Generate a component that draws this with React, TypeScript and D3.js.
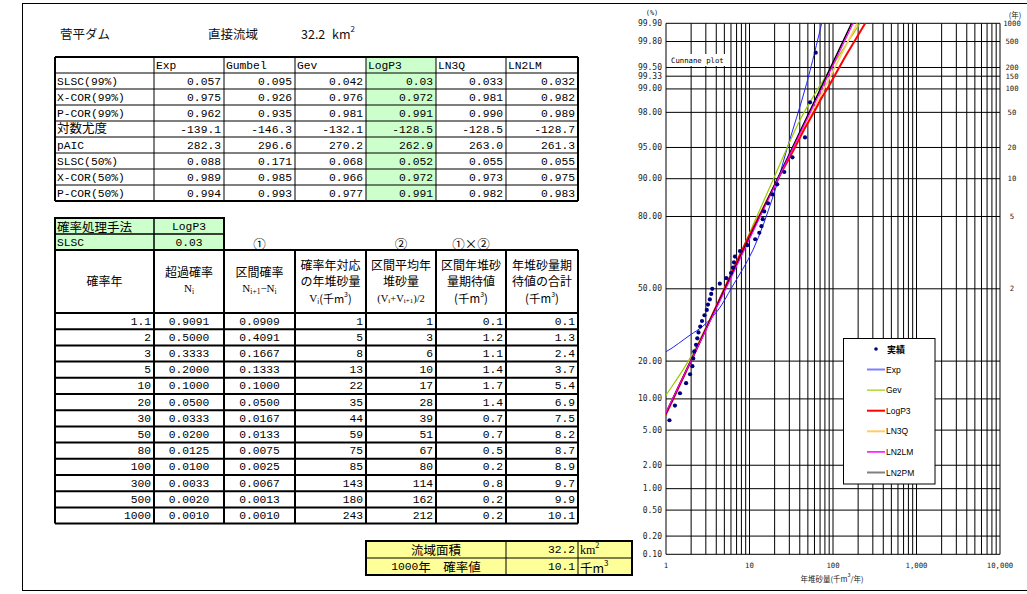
import React from 'react';
import * as d3 from 'd3';

// ---------- Table 1 data ----------
const distNames = ['Exp', 'Gumbel', 'Gev', 'LogP3', 'LN3Q', 'LN2LM'];
const statLabels = ['SLSC(99%)', 'X-COR(99%)', 'P-COR(99%)', '対数尤度', 'pAIC', 'SLSC(50%)', 'X-COR(50%)', 'P-COR(50%)'];
const slsc99 = [0.057, 0.095, 0.042, 0.03, 0.033, 0.032];
const xcor99 = [0.975, 0.926, 0.976, 0.972, 0.981, 0.982];
const pcor99 = [0.962, 0.935, 0.981, 0.991, 0.990, 0.989];
const logLik = [-139.1, -146.3, -132.1, -128.5, -128.5, -128.7];
const pAIC = [282.3, 296.6, 270.2, 262.9, 263.0, 261.3];
const slsc50 = [0.088, 0.171, 0.068, 0.052, 0.055, 0.055];
const xcor50 = [0.989, 0.985, 0.966, 0.972, 0.973, 0.975];
const pcor50 = [0.994, 0.993, 0.977, 0.991, 0.982, 0.983];
const statDecimals = [3, 3, 3, 1, 1, 3, 3, 3];
const selectedMethod = 'LogP3';
const selectedSlsc = 0.03;

// ---------- Table 2 data ----------
const returnPeriod = [1.1, 2, 3, 5, 10, 20, 30, 50, 80, 100, 300, 500, 1000];
const exceedProb = [0.9091, 0.5, 0.3333, 0.2, 0.1, 0.05, 0.0333, 0.02, 0.0125, 0.01, 0.0033, 0.002, 0.001];
const intervalProb = [0.0909, 0.4091, 0.1667, 0.1333, 0.1, 0.05, 0.0167, 0.0133, 0.0075, 0.0025, 0.0067, 0.0013, 0.001];
const quantileV = [1, 5, 8, 13, 22, 35, 44, 59, 75, 85, 143, 180, 243];
const intervalMean = [1, 3, 6, 10, 17, 28, 39, 51, 67, 80, 114, 162, 212];
const intervalExpect = [0.1, 1.2, 1.1, 1.4, 1.7, 1.4, 0.7, 0.7, 0.5, 0.2, 0.8, 0.2, 0.2];
const cumulativeExpect = [0.1, 1.3, 2.4, 3.7, 5.4, 6.9, 7.5, 8.2, 8.7, 8.9, 9.7, 9.9, 10.1];
const basinArea = 32.2;
const value1000 = 10.1;

// ---------- Chart data ----------
const probTicks = [0.1, 0.2, 0.5, 1, 2, 5, 10, 20, 50, 80, 90, 95, 98, 99, 99.333, 99.5, 99.8, 99.9];
const returnTicks = [2, 5, 10, 20, 50, 100, 150, 200, 500, 1000];
const xTickLabels = [1, 10, 100, 1000, 10000];

const obsValue = [1.10, 1.28, 1.47, 1.74, 1.94, 2.07, 2.12, 2.18, 2.29, 2.37, 2.45, 2.57, 2.70, 2.89, 3.08, 3.18, 3.35, 3.48, 3.58, 4.41,
  5.27, 6.0, 6.34, 6.52, 6.70, 7.69, 9.41, 11.7, 13.1, 13.9, 14.4, 15.0, 16.7, 18.8, 21.5, 26.1, 32.7, 46.2, 53.1, 62.1];
const obsPct = [6.3, 8.7, 11.2, 13.6, 16.0, 18.4, 20.9, 23.3, 25.7, 28.2, 30.6, 33.0, 35.4, 37.9, 40.3, 42.7, 45.1, 47.6, 50.0, 52.4,
  54.9, 57.3, 59.7, 62.1, 64.6, 67.0, 69.4, 71.8, 74.3, 76.7, 79.1, 81.6, 84.0, 86.4, 88.8, 91.3, 93.7, 96.1, 98.5, 99.7];

const expPct = [20.5, 23.2, 29.5, 33.2, 40.2, 50.8, 67.4, 85.8, 94.7, 99.16, 99.9];
const expVal = [0.6, 1.0, 1.94, 2.77, 4.2, 6.17, 11.0, 19.1, 27.9, 48.4, 73.2];
const gevPct = [9, 10.8, 20, 50, 90, 97.5, 99, 99.9];
const gevVal = [0.85, 1.0, 1.85, 5.0, 19.4, 40, 66, 210];
const logp3Pct = [5, 9.09, 50, 66.67, 80, 90, 95, 96.67, 98, 98.75, 99, 99.67, 99.8, 99.9];
const logp3Val = [0.8, 1.15, 5, 8, 13, 22, 35, 44, 59, 75, 85, 143, 180, 243];
const ln3qPct = [5, 7.5, 50, 90, 99, 99.9];
const ln3qVal = [0.8, 1.0, 5.05, 22, 78, 195];
const ln2lmPct = [5, 7.5, 50, 90, 99, 99.9];
const ln2lmVal = [0.8, 1.0, 5.2, 22, 73, 174];
const ln2pmPct = [5, 7.4, 50, 90, 99, 99.9];
const ln2pmVal = [0.8, 1.0, 5.1, 21.7, 70.7, 167];

const seriesStyle = [
  { name: 'Exp', pct: expPct, val: expVal, color: '#2222ff', legend: '#7f7fff', width: 1, lw: 2 },
  { name: 'Gev', pct: gevPct, val: gevVal, color: '#99cc00', legend: '#99cc00', width: 1.2, lw: 1.2 },
  { name: 'LN3Q', pct: ln3qPct, val: ln3qVal, color: '#ffcc66', legend: '#ffcc66', width: 1.5, lw: 2 },
  { name: 'LogP3', pct: logp3Pct, val: logp3Val, color: '#ff0000', legend: '#ff0000', width: 2, lw: 2 },
  { name: 'LN2PM', pct: ln2pmPct, val: ln2pmVal, color: '#000000', legend: '#808080', width: 1.5, lw: 2 },
  { name: 'LN2LM', pct: ln2lmPct, val: ln2lmVal, color: '#ff00ff', legend: '#ff00ff', width: 1.2, lw: 1.5 },
];
const legendOrder = ['Exp', 'Gev', 'LogP3', 'LN3Q', 'LN2LM', 'LN2PM'];

// ---------- helpers ----------
function normInv(p: number): number {
  const a = [-3.969683028665376e+01, 2.209460984245205e+02, -2.759285104469687e+02, 1.383577518672690e+02, -3.066479806614716e+01, 2.506628277459239e+00];
  const b = [-5.447609879822406e+01, 1.615858368580409e+02, -1.556989798598866e+02, 6.680131188771972e+01, -1.328068155288572e+01];
  const c = [-7.784894002430293e-03, -3.223964580411365e-01, -2.400758277161838e+00, -2.549732539343734e+00, 4.374664141464968e+00, 2.938163982698783e+00];
  const d = [7.784695709041462e-03, 3.224671290700398e-01, 2.445134137142996e+00, 3.754408661907416e+00];
  const pl = 0.02425;
  if (p < pl) {
    const q = Math.sqrt(-2 * Math.log(p));
    return (((((c[0] * q + c[1]) * q + c[2]) * q + c[3]) * q + c[4]) * q + c[5]) / ((((d[0] * q + d[1]) * q + d[2]) * q + d[3]) * q + 1);
  }
  if (p <= 1 - pl) {
    const q = p - 0.5, r = q * q;
    return (((((a[0] * r + a[1]) * r + a[2]) * r + a[3]) * r + a[4]) * r + a[5]) * q / (((((b[0] * r + b[1]) * r + b[2]) * r + b[3]) * r + b[4]) * r + 1);
  }
  const q = Math.sqrt(-2 * Math.log(1 - p));
  return -(((((c[0] * q + c[1]) * q + c[2]) * q + c[3]) * q + c[4]) * q + c[5]) / ((((d[0] * q + d[1]) * q + d[2]) * q + d[3]) * q + 1);
}

const MONO = "'Liberation Mono', 'Noto Sans CJK JP', monospace";
const CJK = "'Noto Sans CJK JP', sans-serif";
const SERIF = "'Liberation Serif', 'Noto Sans CJK JP', serif";
const CHARTMONO = "'DejaVu Sans Mono', 'Noto Sans CJK JP', monospace";

const PL = 666, PR = 1000, PT = 23.3, PB = 554.3;
const cols = [55, 154, 224, 295, 366, 436, 506, 578];

export default function App() {
  const x = d3.scaleLog().domain([1, 10000]).range([PL, PR]);
  const zs = d3.scaleLinear().domain([normInv(0.001), normInv(0.999)]).range([PB, PT]);
  const yP = (pct: number) => zs(normInv(pct / 100));

  const xGrid: number[] = [];
  for (let e = 0; e < 4; e++) for (let m = 1; m < 10; m++) xGrid.push(m * Math.pow(10, e));
  xGrid.push(10000);

  const line = d3.line<[number, number]>().x(d => x(d[1])).y(d => yP(d[0])).curve(d3.curveCatmullRom.alpha(0.5));

  // table 1
  const t1Top = 57, t1Rh = 16;
  const t1Rows = [slsc99, xcor99, pcor99, logLik, pAIC, slsc50, xcor50, pcor50];
  const selCol = distNames.indexOf(selectedMethod);
  const fmt1 = (r: number, c: number, v: number) => (r === 0 && c === selCol ? v.toFixed(2) : v.toFixed(statDecimals[r]));
  const t1Bottom = t1Top + t1Rh * (t1Rows.length + 1);

  // table 2
  const t2HeadTop = 250, t2HeadBot = 313, t2Rh = 16.2;
  const t2Bottom = t2HeadBot + t2Rh * returnPeriod.length;
  const cc = (i: number) => (cols[i] + cols[i + 1]) / 2;

  const fmtComma = d3.format(',');

  return (
    <div style={{ position: 'absolute', left: 0, top: 0 }}>
      <svg width={1027} height={594} xmlns="http://www.w3.org/2000/svg" style={{ display: 'block', background: '#fff' }}>
        <rect x={0} y={0} width={1027} height={594} fill="#fff" />
        <rect x={22.5} y={3.5} width={1030} height={587} fill="none" stroke="#000" strokeWidth={1} />

        {/* Title */}
        <g fontFamily={CJK} fontSize={12.5} fill="#111">
          <text x={60} y={33} dominantBaseline="central">菅平ダム</text>
          <text x={208} y={33} dominantBaseline="central">直接流域</text>
          <text x={301} y={33} dominantBaseline="central">{basinArea.toFixed(1)}</text>
          <text x={332} y={33.5} dominantBaseline="central">km<tspan fontSize={8} dy={-6}>2</tspan></text>
        </g>

        {/* Table 1 */}
        <rect x={cols[4]} y={t1Top} width={cols[5] - cols[4]} height={t1Bottom - t1Top} fill="#ccffcc" />
        {d3.range(t1Rows.length + 2).map(i => (
          <line key={'h1' + i} x1={cols[0]} x2={cols[7]} y1={t1Top + i * t1Rh} y2={t1Top + i * t1Rh}
            stroke="#000" strokeWidth={i === 0 || i === t1Rows.length + 1 ? 2 : 1} />
        ))}
        {cols.map((cx, i) => (
          <line key={'v1' + i} x1={cx} x2={cx} y1={t1Top} y2={t1Bottom} stroke="#000" strokeWidth={i === 0 || i === 7 ? 2 : 1} />
        ))}
        <g fontFamily={MONO} fontSize={11.3} fill="#000">
          {distNames.map((n, i) => (
            <text key={'dn' + i} x={cols[i + 1] + 2} y={t1Top + t1Rh / 2 + 0.5} dominantBaseline="central">{n}</text>
          ))}
          {statLabels.map((s, r) => (
            <text key={'sl' + r} x={cols[0] + 2} y={t1Top + (r + 1.5) * t1Rh + 0.5} dominantBaseline="central"
              fontSize={/[^\x00-\x7f]/.test(s) ? 12.5 : 11.3}>{s}</text>
          ))}
          {t1Rows.map((row, r) => row.map((v, c) => (
            <text key={'v' + r + '_' + c} x={cols[c + 2] - 3} y={t1Top + (r + 1.5) * t1Rh + 0.5} textAnchor="end" dominantBaseline="central">{fmt1(r, c, v)}</text>
          )))}
        </g>

        {/* Table 2 - method block */}
        <rect x={cols[0]} y={218} width={cols[2] - cols[0]} height={32} fill="#ccffcc" />
        <g stroke="#000" strokeWidth={2} fill="none">
          <rect x={cols[0]} y={218} width={cols[2] - cols[0]} height={32} />
          <line x1={cols[0]} x2={cols[2]} y1={234} y2={234} strokeWidth={1.5} />
          <line x1={cols[1]} x2={cols[1]} y1={218} y2={250} strokeWidth={1.5} />
        </g>
        <g fontFamily={MONO} fontSize={11.3} fill="#000">
          <text x={cols[0] + 2} y={226.5} dominantBaseline="central" fontFamily={CJK} fontSize={12.5}>確率処理手法</text>
          <text x={cc(1)} y={226.5} textAnchor="middle" dominantBaseline="central">{selectedMethod}</text>
          <text x={cols[0] + 2} y={242.5} dominantBaseline="central">SLSC</text>
          <text x={cc(1)} y={242.5} textAnchor="middle" dominantBaseline="central">{selectedSlsc.toFixed(2)}</text>
        </g>
        <g fontFamily={CJK} fontSize={12.5} fill="#000" textAnchor="middle">
          <text x={cc(2)} y={243} dominantBaseline="central">①</text>
          <text x={cc(4)} y={243} dominantBaseline="central">②</text>
          <text x={cc(5)} y={243} dominantBaseline="central">①×②</text>
        </g>

        {/* Table 2 - header & body grid */}
        <g stroke="#000" fill="none">
          <line x1={cols[0]} x2={cols[7]} y1={t2HeadTop} y2={t2HeadTop} strokeWidth={2} />
          {d3.range(returnPeriod.length + 1).map(i => (
            <line key={'h2' + i} x1={cols[0]} x2={cols[7]} y1={t2HeadBot + i * t2Rh} y2={t2HeadBot + i * t2Rh} strokeWidth={2} />
          ))}
          {cols.map((cx, i) => (
            <line key={'v2' + i} x1={cx} x2={cx} y1={t2HeadTop} y2={t2Bottom} strokeWidth={2} />
          ))}
        </g>
        <g fontFamily={CJK} fontSize={12} fill="#000" textAnchor="middle">
          <text x={cc(0)} y={280} dominantBaseline="central">確率年</text>
          <text x={cc(1)} y={271} dominantBaseline="central">超過確率</text>
          <text x={cc(1)} y={288} dominantBaseline="central" fontFamily={SERIF} fontSize={11}>N<tspan fontSize={7.5} dy={3}>i</tspan></text>
          <text x={cc(2)} y={271} dominantBaseline="central">区間確率</text>
          <text x={cc(2)} y={288} dominantBaseline="central" fontFamily={SERIF} fontSize={11}>N<tspan fontSize={7.5} dy={3}>i+1</tspan><tspan dy={-3}>−N</tspan><tspan fontSize={7.5} dy={3}>i</tspan></text>
          <text x={cc(3)} y={264} dominantBaseline="central">確率年対応</text>
          <text x={cc(3)} y={280} dominantBaseline="central">の年堆砂量</text>
          <text x={cc(3)} y={298} dominantBaseline="central" fontSize={11}><tspan fontFamily={SERIF}>V</tspan><tspan fontSize={7} dy={3}>i</tspan><tspan dy={-3}>(千m</tspan><tspan fontSize={7} dy={-4}>3</tspan><tspan dy={4}>)</tspan></text>
          <text x={cc(4)} y={264} dominantBaseline="central">区間平均年</text>
          <text x={cc(4)} y={280} dominantBaseline="central">堆砂量</text>
          <text x={cc(4)} y={298} dominantBaseline="central" fontFamily={SERIF} fontSize={10.5}>(V<tspan fontSize={7} dy={3}>i</tspan><tspan dy={-3}>+V</tspan><tspan fontSize={7} dy={3}>i+1</tspan><tspan dy={-3}>)/2</tspan></text>
          <text x={cc(5)} y={264} dominantBaseline="central">区間年堆砂</text>
          <text x={cc(5)} y={280} dominantBaseline="central">量期待値</text>
          <text x={cc(5)} y={298} dominantBaseline="central" fontSize={11.5}>(千m<tspan fontSize={7} dy={-4}>3</tspan><tspan dy={4}>)</tspan></text>
          <text x={cc(6)} y={264} dominantBaseline="central">年堆砂量期</text>
          <text x={cc(6)} y={280} dominantBaseline="central">待値の合計</text>
          <text x={cc(6)} y={298} dominantBaseline="central" fontSize={11.5}>(千m<tspan fontSize={7} dy={-4}>3</tspan><tspan dy={4}>)</tspan></text>
        </g>
        <g fontFamily={MONO} fontSize={11.3} fill="#000">
          {returnPeriod.map((t, i) => {
            const yc = t2HeadBot + (i + 0.5) * t2Rh + 0.5;
            return (
              <g key={'r2' + i}>
                <text x={cols[1] - 3} y={yc} textAnchor="end" dominantBaseline="central">{String(t)}</text>
                <text x={cc(1)} y={yc} textAnchor="middle" dominantBaseline="central">{exceedProb[i].toFixed(4)}</text>
                <text x={cc(2)} y={yc} textAnchor="middle" dominantBaseline="central">{intervalProb[i].toFixed(4)}</text>
                <text x={cols[4] - 3} y={yc} textAnchor="end" dominantBaseline="central">{String(quantileV[i])}</text>
                <text x={cols[5] - 3} y={yc} textAnchor="end" dominantBaseline="central">{String(intervalMean[i])}</text>
                <text x={cols[6] - 3} y={yc} textAnchor="end" dominantBaseline="central">{intervalExpect[i].toFixed(1)}</text>
                <text x={cols[7] - 3} y={yc} textAnchor="end" dominantBaseline="central">{cumulativeExpect[i].toFixed(1)}</text>
              </g>
            );
          })}
        </g>

        {/* Bottom summary box */}
        <rect x={366} y={541} width={266} height={34} fill="#ffff99" />
        <g stroke="#000" fill="none">
          <rect x={366} y={541} width={266} height={34} strokeWidth={2} />
          <line x1={366} x2={632} y1={558} y2={558} strokeWidth={1} />
          <line x1={506} x2={506} y1={541} y2={575} strokeWidth={1} />
          <line x1={578} x2={578} y1={541} y2={575} strokeWidth={1} />
        </g>
        <g fontFamily={CJK} fontSize={12.5} fill="#000">
          <text x={436} y={549.5} textAnchor="middle" dominantBaseline="central">流域面積</text>
          <text x={436} y={566.5} textAnchor="middle" dominantBaseline="central"><tspan fontFamily={MONO} fontSize={11.3}>1000</tspan>年　確率値</text>
          <text x={575} y={549.5} textAnchor="end" dominantBaseline="central" fontFamily={MONO} fontSize={11.3}>{basinArea.toFixed(1)}</text>
          <text x={575} y={566.5} textAnchor="end" dominantBaseline="central" fontFamily={MONO} fontSize={11.3}>{value1000.toFixed(1)}</text>
          <text x={580} y={550} dominantBaseline="central" fontFamily={SERIF} fontSize={12}>km<tspan fontSize={8} dy={-5}>2</tspan></text>
          <text x={580} y={567} dominantBaseline="central">千m<tspan fontSize={8} dy={-5}>3</tspan></text>
        </g>

        {/* Chart */}
        <defs>
          <clipPath id="plotClip"><rect x={PL} y={PT} width={PR - PL} height={PB - PT} /></clipPath>
        </defs>
        <g stroke="#000" strokeWidth={1}>
          {xGrid.map((v, i) => (
            <line key={'xg' + i} x1={x(v)} x2={x(v)} y1={PT} y2={PB} />
          ))}
          {probTicks.map((p, i) => (
            <line key={'yg' + i} x1={PL} x2={PR} y1={yP(p)} y2={yP(p)} />
          ))}
        </g>
        {/* Cunnane label */}
        <rect x={667} y={54} width={62} height={12} fill="#fff" />
        <text x={671} y={60.5} dominantBaseline="central" fontFamily={CHARTMONO} fontSize={7.3} fill="#000">Cunnane plot</text>

        <g fontFamily={CHARTMONO} fontSize={8} fill="#222">
          <text x={652} y={13} textAnchor="middle" dominantBaseline="central" fontSize={7}>(%)</text>
          {probTicks.map((p, i) => (
            <text key={'yl' + i} x={662} y={yP(p)} textAnchor="end" dominantBaseline="central">{p.toFixed(2)}</text>
          ))}
          <text x={1015} y={14} textAnchor="middle" dominantBaseline="central" fontFamily={CJK} fontSize={7.5}>(年)</text>
          {returnTicks.map((t, i) => (
            <text key={'rl' + i} x={1012} y={yP(100 * (1 - 1 / t))} textAnchor="middle" dominantBaseline="central" fontSize={7.3}>{t}</text>
          ))}
          {xTickLabels.map((v, i) => (
            <text key={'xl' + i} x={x(v)} y={565} textAnchor="middle" dominantBaseline="central" fontSize={7.3}>{fmtComma(v)}</text>
          ))}
          <text x={832} y={578} textAnchor="middle" dominantBaseline="central" fontFamily={CJK} fontSize={7.5}>年堆砂量(千m<tspan fontSize={5.5} dy={-3}>3</tspan><tspan dy={3}>/年)</tspan></text>
        </g>

        <g clipPath="url(#plotClip)">
          {seriesStyle.map(s => (
            <path key={s.name} d={line(s.pct.map((p, i) => [p, s.val[i]] as [number, number])) || ''} fill="none" stroke={s.color} strokeWidth={s.width} />
          ))}
          {obsValue.map((v, i) => (
            <circle key={'o' + i} cx={x(v)} cy={yP(obsPct[i])} r={2.1} fill="#000080" />
          ))}
        </g>

        {/* Legend */}
        <rect x={843.5} y={338.5} width={91.5} height={145.5} fill="#fff" stroke="#000" strokeWidth={1} />
        <circle cx={876} cy={349} r={1.8} fill="#000080" />
        <text x={887} y={349} dominantBaseline="central" fontFamily={CJK} fontSize={9} fontWeight="bold" fill="#000">実績</text>
        {legendOrder.map((n, i) => {
          const s = seriesStyle.find(t => t.name === n)!;
          const ly = 369.5 + i * 20.6;
          return (
            <g key={'lg' + n}>
              <line x1={867} x2={885} y1={ly} y2={ly} stroke={s.legend} strokeWidth={s.lw} />
              <text x={886} y={ly} dominantBaseline="central" fontFamily="'Liberation Sans', sans-serif" fontSize={8.5} fill="#000">{n}</text>
            </g>
          );
        })}
      </svg>
    </div>
  );
}
